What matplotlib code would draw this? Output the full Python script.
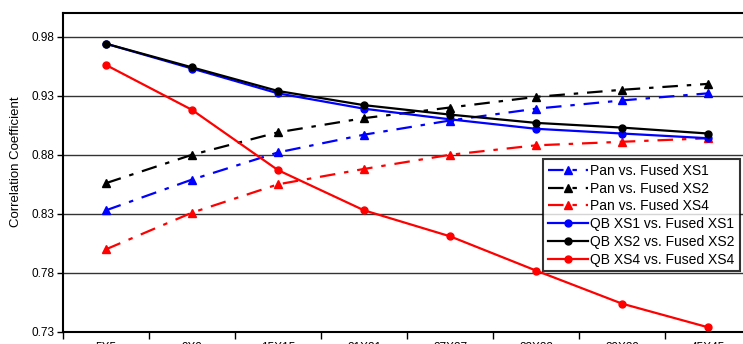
import numpy as np
import matplotlib
matplotlib.use('Agg')
import matplotlib.pyplot as plt

plt.rcParams['font.family'] = ['Liberation Sans', 'DejaVu Sans']

# Window sizes on the category axis
windows = ['5X5', '9X9', '15X15', '21X21', '27X27', '33X33', '39X39', '45X45']

# Correlation values
pan_xs1 = [0.833, 0.859, 0.882, 0.897, 0.909, 0.919, 0.926, 0.932]
pan_xs2 = [0.856, 0.880, 0.899, 0.911, 0.920, 0.929, 0.935, 0.940]
pan_xs4 = [0.800, 0.831, 0.855, 0.868, 0.880, 0.888, 0.891, 0.894]
qb_xs1 = [0.974, 0.953, 0.932, 0.919, 0.910, 0.902, 0.898, 0.894]
qb_xs2 = [0.974, 0.954, 0.934, 0.922, 0.914, 0.907, 0.903, 0.898]
qb_xs4 = [0.956, 0.918, 0.867, 0.833, 0.811, 0.782, 0.754, 0.734]

y_ticks = [0.73, 0.78, 0.83, 0.88, 0.93, 0.98]

fig = plt.figure(figsize=(7.43, 3.44), dpi=100)
ax = fig.add_axes([63/743, 12/344, 688/743, 319/344])

xs = np.arange(len(windows))
dashdot = (0, (7, 4, 2, 4))

# Pan vs. fused (dash-dot, triangles)
ax.plot(xs, pan_xs1, color='#0000ff', ls=dashdot, lw=1.6, marker='^', ms=6, label='Pan vs. Fused XS1')
ax.plot(xs, pan_xs2, color='black', ls=dashdot, lw=1.6, marker='^', ms=6, label='Pan vs. Fused XS2')
ax.plot(xs, pan_xs4, color='#ff0000', ls=dashdot, lw=1.6, marker='^', ms=6, label='Pan vs. Fused XS4')

# QB vs. fused (solid, circles)
ax.plot(xs, qb_xs1, color='#0000ff', lw=1.6, marker='o', ms=5, label='QB XS1 vs. Fused XS1')
ax.plot(xs, qb_xs2, color='black', lw=1.6, marker='o', ms=5, label='QB XS2 vs. Fused XS2')
ax.plot(xs, qb_xs4, color='#ff0000', lw=1.6, marker='o', ms=5, label='QB XS4 vs. Fused XS4')

ax.set_xlim(-0.5, len(windows) - 0.5)
ax.set_ylim(0.73, 1.0)

# Tick marks sit between categories, labels under the category centres
ax.set_xticks(np.arange(-0.5, len(windows), 1.0))
ax.set_xticklabels([])
ax.set_xticks(xs, minor=True)
ax.set_xticklabels(windows, minor=True, fontsize=8.5)
ax.tick_params(axis='x', which='major', direction='out', length=5, width=1)
ax.tick_params(axis='x', which='minor', length=0, pad=7)

ax.set_yticks(y_ticks)
ax.set_yticklabels(['%.2f' % t for t in y_ticks], fontsize=8.5)
ax.tick_params(axis='y', direction='out', length=4, width=1, pad=2)

ax.grid(axis='y', color='#333333', lw=1)
ax.set_axisbelow(True)

for s in ax.spines.values():
    s.set_linewidth(1.5)

ax.set_ylabel('Correlation Coefficient', fontsize=9.5)
ax.yaxis.set_label_coords(-0.06, 0.533)

leg = ax.legend(loc='upper left', bbox_to_anchor=(543/743, 1 - 159/344),
                bbox_transform=fig.transFigure, fontsize=10, frameon=True,
                fancybox=False, borderpad=0.35, labelspacing=0.27,
                handlelength=2.9, handletextpad=0.15, borderaxespad=0)
leg.get_frame().set_edgecolor('black')
leg.get_frame().set_linewidth(1.5)

plt.savefig('out.png', dpi=100)
